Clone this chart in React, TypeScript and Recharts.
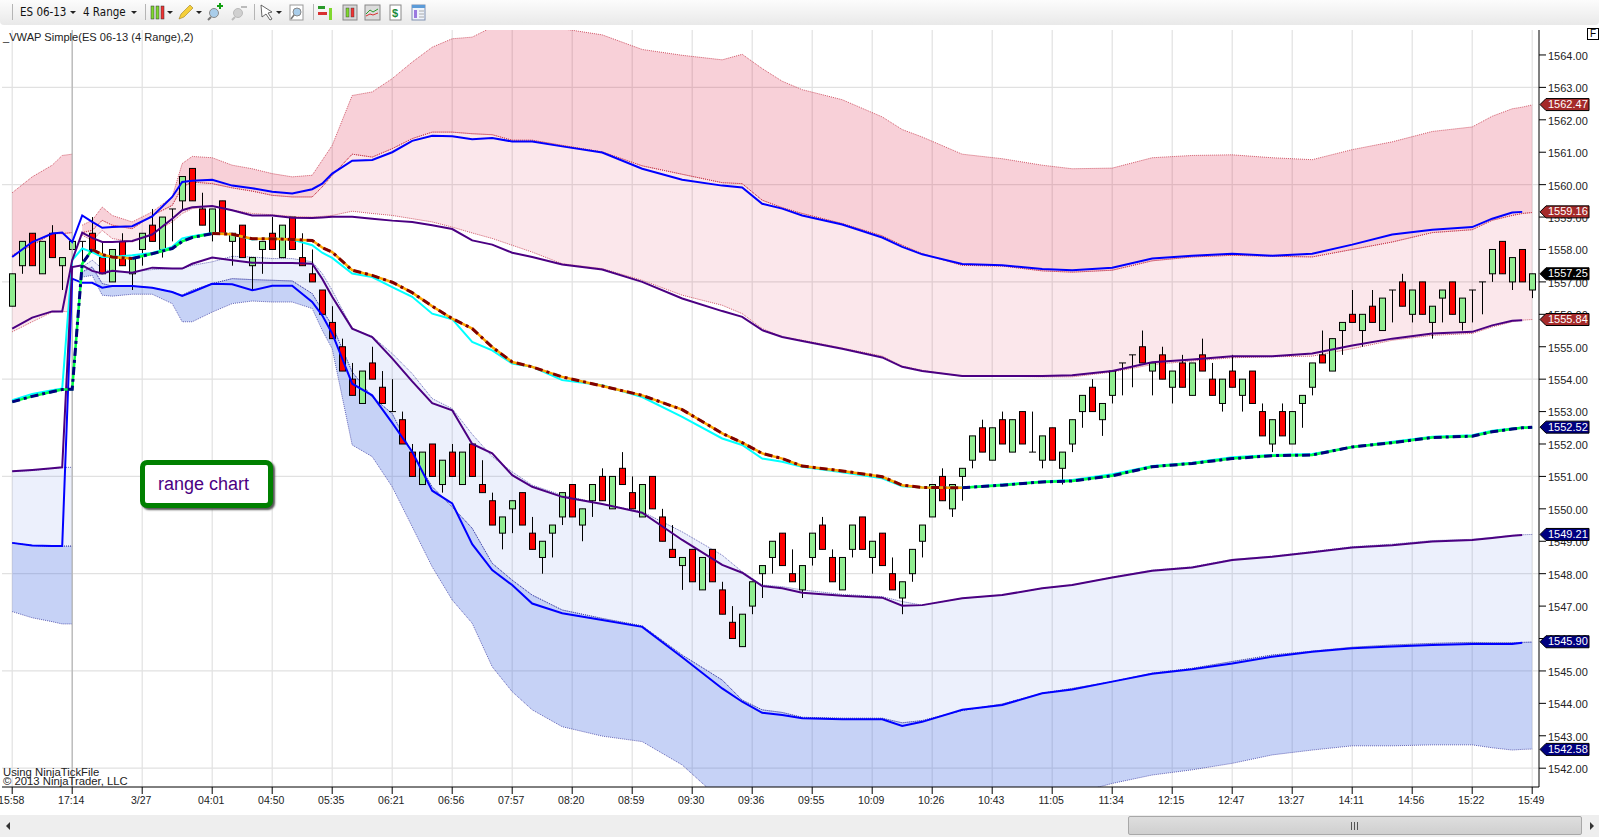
import React from 'react'
import {
  Area,
  Bar,
  CartesianGrid,
  ComposedChart,
  Line,
  ReferenceDot,
  ReferenceLine,
  XAxis,
  YAxis,
} from 'recharts'

const FONT = '"Liberation Sans", Arial, sans-serif'
const TOOLBAR_FONT = '"DejaVu Sans Condensed", "Liberation Sans", sans-serif'

const tickBars = [0, 6, 13, 20, 26, 32, 38, 44, 50, 56, 62, 68, 74, 80, 86, 92, 98, 104, 110, 116, 122, 128, 134, 140, 146, 152]
const tickLabels = ['15:58', '17:14', '3/27', '04:01', '04:50', '05:35', '06:21', '06:56', '07:57', '08:20', '08:59', '09:30', '09:36', '09:55', '10:09', '10:26', '10:43', '11:05', '11:34', '12:15', '12:47', '13:27', '14:11', '14:56', '15:22', '15:49']
const priceTicks = [1542, 1543, 1544, 1545, 1546, 1547, 1548, 1549, 1550, 1551, 1552, 1553, 1554, 1555, 1556, 1557, 1558, 1559, 1560, 1561, 1562, 1563, 1564]
const priceGrid = [1542, 1545, 1548, 1551, 1554, 1557, 1560, 1563]
const xDomain = [-1.02, 152.68]
const yDomain = [1541.42, 1564.77]

// range bars, one entry per bar
const opens = [
  1556.25, 1557.5, 1558.5, 1557.25, 1558.5, 1557.5, 1558, 1558.25, 1558.5, 1557.75,
  1557, 1558.25, 1557.25, 1558, 1558.75, 1558, 1559.25, 1559.5, 1560.5, 1559.25,
  1558.5, 1559.5, 1558.25, 1558.75, 1557.5, 1558, 1558.5, 1557.75, 1559, 1557.75,
  1557.25, 1556.75, 1555.75, 1555, 1554, 1553.25, 1554.5, 1553.75, 1553, 1552.75,
  1551.75, 1550.75, 1552, 1550.75, 1551.75, 1550.75, 1552, 1550.75, 1550.25, 1549.25,
  1550, 1550.5, 1549.25, 1548.5, 1549.25, 1549.75, 1550.75, 1549.5, 1550.25, 1551,
  1550, 1551.25, 1550.5, 1549.75, 1551, 1549.75, 1548.75, 1548.25, 1548.75, 1547.5,
  1548.75, 1547.5, 1546.5, 1545.75, 1547, 1548, 1548.5, 1549.25, 1548, 1547.5,
  1548.5, 1549.5, 1548.5, 1547.5, 1548.75, 1549.75, 1548.5, 1549.25, 1548, 1547.25,
  1548, 1549, 1549.75, 1551, 1550, 1551, 1551.5, 1552.5, 1551.5, 1552.75,
  1551.75, 1553, 1551.75, 1551.5, 1552.5, 1551.25, 1552, 1553, 1553.75, 1552.75,
  1553.5, 1554.5, 1554.75, 1555, 1554.25, 1554.75, 1553.75, 1554.5, 1553.5, 1554.75,
  1554, 1553.25, 1554.25, 1553.5, 1554.25, 1553, 1552, 1553, 1552, 1553.25,
  1553.75, 1554.75, 1554.25, 1555.5, 1556, 1555.5, 1556.25, 1555.5, 1556.75, 1557,
  1556, 1557, 1555.75, 1556.5, 1557, 1555.75, 1556.75, 1557, 1557.25, 1558.25,
  1557, 1558, 1556.75,
]
const closes = [
  1557.25, 1558.25, 1557.5, 1558.25, 1557.75, 1557.75, 1558.25, 1558.25, 1558, 1557.25,
  1558, 1557.5, 1557.75, 1558.5, 1558.25, 1559, 1559.25, 1560.25, 1559.5, 1558.75,
  1559.25, 1558.5, 1558.5, 1557.75, 1557.75, 1558.25, 1558, 1558.75, 1558, 1557.5,
  1557, 1556, 1555.25, 1554.25, 1553.5, 1554.25, 1554, 1553.25, 1553, 1552,
  1551, 1551.75, 1551, 1551.5, 1551, 1551.75, 1551, 1550.5, 1549.5, 1549.75,
  1550.25, 1549.5, 1548.75, 1549, 1549.5, 1550.5, 1549.75, 1550, 1550.75, 1550.25,
  1551, 1550.75, 1550, 1550.75, 1550, 1549, 1548.5, 1548.5, 1547.75, 1548.5,
  1547.75, 1546.75, 1546, 1546.75, 1547.75, 1548.25, 1549, 1548.25, 1547.75, 1548.25,
  1549.25, 1548.75, 1547.75, 1548.5, 1549.5, 1548.75, 1549, 1548.25, 1547.5, 1547.75,
  1548.75, 1549.5, 1550.75, 1550.25, 1550.75, 1551.25, 1552.25, 1551.75, 1552.5, 1552,
  1552.75, 1552, 1551.75, 1552.25, 1551.5, 1551.75, 1552.75, 1553.5, 1553, 1553.25,
  1554.25, 1554.5, 1554.75, 1554.5, 1554.5, 1554, 1554.25, 1553.75, 1554.5, 1554.25,
  1553.5, 1554, 1553.75, 1554, 1553.25, 1552.25, 1552.75, 1552.25, 1553, 1553.5,
  1554.5, 1554.5, 1555.25, 1555.75, 1555.75, 1556, 1555.75, 1556.5, 1556.75, 1556.25,
  1556.75, 1556, 1556.25, 1556.75, 1556, 1556.5, 1556.75, 1557, 1558, 1557.25,
  1557.75, 1557, 1557.25,
]
const highs = [
  1557.25, 1558.25, 1558.5, 1558.25, 1558.75, 1557.75, 1558.25, 1558.25, 1559, 1558.25,
  1558, 1558.5, 1557.75, 1558.5, 1559.25, 1559, 1559.25, 1560.25, 1560.5, 1559.75,
  1559.25, 1559.5, 1558.5, 1558.75, 1557.75, 1558.25, 1559, 1558.75, 1559, 1558.5,
  1558, 1556.75, 1556.25, 1555.25, 1554.5, 1554.25, 1555, 1554.25, 1554, 1553,
  1552, 1551.75, 1552, 1551.5, 1552, 1551.75, 1552, 1551.5, 1550.5, 1549.75,
  1550.25, 1550.5, 1549.75, 1549, 1549.5, 1550.5, 1550.75, 1550, 1550.75, 1551.25,
  1551, 1551.75, 1551, 1550.75, 1551, 1550, 1549.5, 1548.5, 1548.75, 1548.5,
  1548.75, 1547.75, 1547, 1546.75, 1547.75, 1548.25, 1549, 1549.25, 1548.75, 1548.25,
  1549.25, 1549.75, 1548.75, 1548.5, 1549.5, 1549.75, 1549, 1549.25, 1548.5, 1547.75,
  1548.75, 1549.5, 1550.75, 1551.25, 1550.75, 1551.25, 1552.25, 1552.75, 1552.5, 1553,
  1552.75, 1553, 1553, 1552.25, 1552.5, 1551.75, 1552.75, 1553.5, 1554, 1553.25,
  1554.25, 1554.5, 1554.75, 1555.5, 1554.5, 1555, 1554.25, 1554.75, 1554.5, 1555.25,
  1554.5, 1554, 1554.75, 1554, 1554.25, 1553.25, 1552.75, 1553.25, 1553, 1553.5,
  1554.5, 1555.5, 1555.25, 1555.75, 1556.75, 1556, 1556.75, 1556.5, 1556.75, 1557.25,
  1556.75, 1557, 1556.25, 1556.75, 1557, 1556.5, 1556.75, 1557, 1558, 1558.25,
  1557.75, 1558, 1557.25,
]
const lows = [
  1556.25, 1557.25, 1557.5, 1557.25, 1557.75, 1556.75, 1558, 1557.25, 1558, 1557.25,
  1557, 1557.5, 1556.75, 1557.5, 1558.25, 1557.75, 1558.25, 1559.25, 1559.5, 1558.75,
  1558.25, 1558.5, 1557.5, 1557.75, 1556.75, 1557.25, 1558, 1557.75, 1558, 1557.5,
  1557, 1556, 1555.25, 1554.25, 1553.5, 1553.25, 1554, 1553.25, 1553, 1552,
  1551, 1550.75, 1551, 1550.5, 1551, 1550.75, 1551, 1550.5, 1549.5, 1548.75,
  1549.25, 1549.5, 1548.75, 1548, 1548.5, 1549.5, 1549.75, 1549, 1549.75, 1550.25,
  1550, 1550.75, 1550, 1549.75, 1550, 1549, 1548.5, 1547.5, 1547.75, 1547.5,
  1547.75, 1546.75, 1546, 1545.75, 1546.75, 1547.25, 1548, 1548.25, 1547.75, 1547.25,
  1548.25, 1548.75, 1547.75, 1547.5, 1548.5, 1548.75, 1548, 1548.25, 1547.5, 1546.75,
  1547.75, 1548.5, 1549.75, 1550.25, 1549.75, 1550.25, 1551.25, 1551.75, 1551.5, 1552,
  1551.75, 1552, 1551.75, 1551.25, 1551.5, 1550.75, 1551.75, 1552.5, 1553, 1552.25,
  1553.25, 1553.5, 1553.75, 1554.5, 1553.5, 1554, 1553.25, 1553.75, 1553.5, 1554.25,
  1553.5, 1553, 1553.75, 1553, 1553.25, 1552.25, 1551.75, 1552.25, 1552, 1552.5,
  1553.5, 1554.5, 1554.25, 1554.75, 1555.75, 1555, 1555.75, 1555.5, 1555.75, 1556.25,
  1555.75, 1556, 1555.25, 1555.75, 1556, 1555.5, 1555.75, 1556, 1557, 1557.25,
  1556.75, 1557, 1556.5,
]

// the bars the indicator values below were read at
const sampleBars = [
  0, 2, 4, 5, 6,
  7, 8, 9, 10,
  12, 14, 16, 17, 18,
  20, 22, 24, 26, 28,
  30, 31, 32, 34, 36,
  38, 40, 42, 44, 46,
  48, 50, 52,
  55, 59, 63, 67, 71,
  73, 75, 77, 79, 83,
  87, 89, 91, 95, 99,
  103, 106, 110, 114, 118,
  122, 126, 130, 134, 138,
  142, 146, 148, 150, 151, 152,
]

const outerUpper = [
  1559.75, 1560.24, 1560.6, 1560.9, 1560.94,
  1558.75, 1558.9, 1559.31, 1559.05,
  1558.85, 1559.16, 1559.62, 1560.65, 1560.87,
  1560.83, 1560.6, 1560.49, 1560.34, 1560.24,
  1560.29, 1560.75, 1561.21, 1562.75, 1562.86,
  1563.27, 1563.78, 1564.24, 1564.5, 1564.55,
  1564.86, 1565.02, 1565.07,
  1564.81, 1564.62, 1564.17, 1563.99, 1563.85,
  1564.02, 1563.58, 1563.19, 1562.93, 1562.62,
  1562.09, 1561.7, 1561.47, 1560.94, 1560.8,
  1560.6, 1560.49, 1560.51, 1560.83, 1560.9,
  1560.92, 1560.83, 1560.77, 1561.08, 1561.32,
  1561.64, 1561.78, 1562.11, 1562.34, 1562.39, 1562.46,
]
const innerUpper = [
  1557.82, 1558.13, 1558.49, 1558.49, 1558.52,
  1558.52, 1558.59, 1558.9, 1558.75,
  1558.64, 1559.05, 1559.36, 1559.93, 1560.08,
  1560.03, 1559.9, 1559.8, 1559.67, 1559.62,
  1559.62, 1559.93, 1560.29, 1560.94, 1560.85,
  1561.11, 1561.42, 1561.62, 1561.62, 1561.57,
  1561.54, 1561.37, 1561.37,
  1561.21, 1561.01, 1560.58, 1560.32, 1560.06,
  1560.03, 1559.52, 1559.29, 1559.11, 1558.8,
  1558.42, 1558.13, 1557.87, 1557.51, 1557.49,
  1557.34, 1557.3, 1557.36, 1557.65, 1557.77,
  1557.82, 1557.79, 1557.77, 1558, 1558.23,
  1558.52, 1558.61, 1558.9, 1559.05, 1559.11, 1559.14,
]
const upperFloor = [
  1555.46, 1555.77, 1556.07, 1556.09, 1556.07,
  1558.44, 1558.28, 1558.59, 1558.34,
  1558.23, 1558.49, 1558.85, 1559.11, 1559.26,
  1559.33, 1559.21, 1559.11, 1559.07, 1559.02,
  1559, 1559.02, 1559.05, 1559.18, 1559.11,
  1559.05, 1558.95, 1558.85, 1558.69, 1558.51,
  1558.34, 1558.13, 1557.92,
  1557.56, 1557.41, 1557.05, 1556.59, 1556.28,
  1556.02, 1555.56, 1555.3, 1555.2, 1554.96,
  1554.71, 1554.4, 1554.27, 1554.09, 1554.09,
  1554.07, 1554.07, 1554.22, 1554.45, 1554.56,
  1554.66, 1554.69, 1554.71, 1554.94, 1555.2,
  1555.35, 1555.41, 1555.61, 1555.77, 1555.82, 1555.84,
]
const lowerCeiling = [
  1551.16, 1551.18, 1551.25, 1551.28, 1551.28,
  1557.46, 1557.67, 1557.41, 1557.31,
  1557.31, 1557.38, 1557.41, 1557.41, 1557.51,
  1557.62, 1557.79, 1557.77, 1557.72, 1557.72,
  1557.62, 1557.26, 1556.74, 1555.56, 1555.32,
  1554.79, 1554.17, 1553.4, 1553.09, 1552.3,
  1551.61, 1551.14, 1550.73,
  1550.42, 1550.15, 1549.91, 1549.29, 1548.57,
  1548.06, 1547.65, 1547.6, 1547.5, 1547.36,
  1547.29, 1547.14, 1547.03, 1547.24, 1547.34,
  1547.55, 1547.65, 1547.89, 1548.11, 1548.21,
  1548.44, 1548.54, 1548.68, 1548.83, 1548.91,
  1549.02, 1549.06, 1549.12, 1549.18, 1549.2, 1549.21,
]
const innerLower = [
  1548.95, 1548.87, 1548.85, 1548.85, 1548.85,
  1557.31, 1557.46, 1556.95, 1556.87,
  1556.87, 1556.82, 1556.69, 1556.59, 1556.74,
  1556.95, 1557.1, 1557.07, 1557.05, 1557.03,
  1556.64, 1556.13, 1555.66, 1554.22, 1553.45,
  1552.94, 1551.71, 1550.68, 1550.06, 1549.4,
  1548.32, 1547.8, 1547.34,
  1546.88, 1546.62, 1546.39, 1545.49, 1544.72,
  1544.1, 1543.8, 1543.72, 1543.57, 1543.54,
  1543.54, 1543.4, 1543.47, 1543.78, 1543.98,
  1544.31, 1544.46, 1544.67, 1544.93, 1545.08,
  1545.29, 1545.49, 1545.61, 1545.73, 1545.8,
  1545.85, 1545.88, 1545.87, 1545.87, 1545.88, 1545.89,
]
const outerLower = [
  1546.83, 1546.64, 1546.52, 1546.45, 1546.45,
  1557.15, 1557.2, 1556.59, 1556.56,
  1556.62, 1556.62, 1556.33, 1555.77, 1555.77,
  1556.07, 1556.33, 1556.41, 1556.38, 1556.38,
  1556.18, 1555.51, 1554.94, 1551.97, 1551.61,
  1550.68, 1549.45, 1548.21, 1547.19, 1546.47,
  1545.13, 1544.36, 1543.8,
  1543.28, 1542.99, 1542.82, 1542.1, 1540.98,
  1540.6, 1540.3, 1540.2, 1540.1, 1540,
  1540, 1540.1, 1540.2, 1540.4, 1540.6,
  1540.9, 1541.2, 1541.53, 1541.79, 1541.95,
  1542.15, 1542.41, 1542.56, 1542.69, 1542.69,
  1542.72, 1542.72, 1542.63, 1542.56, 1542.58, 1542.59,
]
const blueUpper = [
  1557.77, 1558.23, 1558.49, 1558.52, 1558.23,
  1559.05, 1558.85, 1558.67, 1558.69,
  1558.72, 1559.02, 1559.62, 1560.08, 1560.12,
  1560.15, 1559.97, 1559.89, 1559.78, 1559.73,
  1559.86, 1560.03, 1560.34, 1560.74, 1560.76,
  1561, 1561.35, 1561.51, 1561.49, 1561.4,
  1561.44, 1561.33, 1561.33,
  1561.18, 1560.99, 1560.49, 1560.15, 1559.97,
  1559.91, 1559.41, 1559.26, 1559.05, 1558.77,
  1558.37, 1558.08, 1557.85, 1557.55, 1557.51,
  1557.4, 1557.36, 1557.44, 1557.72, 1557.81,
  1557.87, 1557.81, 1557.87, 1558.15, 1558.46,
  1558.61, 1558.69, 1558.95, 1559.14, 1559.16, null,
]
const purpleUpper = [
  1555.56, 1555.9, 1556.09, 1556.09, 1557.67,
  1558.52, 1558.36, 1558.23, 1558.23,
  1558.26, 1558.46, 1558.95, 1559.21, 1559.3,
  1559.34, 1559.21, 1559.05, 1559.05, 1558.98,
  1558.97, 1558.99, 1559.01, 1559.01, 1558.95,
  1558.89, 1558.85, 1558.75, 1558.63, 1558.28,
  1558.15, 1557.9, 1557.77,
  1557.54, 1557.38, 1557, 1556.49, 1556.1,
  1555.92, 1555.51, 1555.3, 1555.18, 1554.94,
  1554.67, 1554.38, 1554.25, 1554.1, 1554.1,
  1554.1, 1554.12, 1554.25, 1554.52, 1554.61,
  1554.71, 1554.71, 1554.79, 1555.04, 1555.25,
  1555.41, 1555.46, 1555.66, 1555.8, 1555.82, null,
]
const cyanMid = [
  1553.35, 1553.54, 1553.66, 1553.71, 1557.67,
  1558.03, 1557.92, 1557.77, 1557.77,
  1557.82, 1557.89, 1558.08, 1558.34, 1558.41,
  1558.51, 1558.46, 1558.31, 1558.34, 1558.31,
  1558.13, 1557.9, 1557.74, 1557.26, 1557.15,
  1556.84, 1556.54, 1556.02, 1555.85, 1555.15,
  1554.89, 1554.48, 1554.38,
  1553.97, 1553.81, 1553.45, 1552.84, 1552.17,
  1551.97, 1551.55, 1551.45, 1551.3, 1551.13,
  1550.94, 1550.7, 1550.66, 1550.66, 1550.75,
  1550.84, 1550.89, 1551.07, 1551.32, 1551.42,
  1551.59, 1551.66, 1551.69, 1551.91, 1552.07,
  1552.22, 1552.27, 1552.41, 1552.48, 1552.51, 1552.52,
]
const vwapMid = [
  1553.3, 1553.47, 1553.61, 1553.68, 1553.69,
  1557.56, 1558, 1557.84, 1557.77,
  1557.72, 1557.87, 1558.03, 1558.25, 1558.37,
  1558.49, 1558.47, 1558.33, 1558.33, 1558.31,
  1558.28, 1558.06, 1557.92, 1557.36, 1557.2,
  1556.99, 1556.67, 1556.25, 1555.87, 1555.56,
  1554.99, 1554.53, 1554.38,
  1554.07, 1553.79, 1553.5, 1553.06, 1552.33,
  1552.04, 1551.71, 1551.55, 1551.32, 1551.17,
  1550.99, 1550.73, 1550.66, 1550.65, 1550.73,
  1550.83, 1550.86, 1551.02, 1551.3, 1551.4,
  1551.55, 1551.64, 1551.66, 1551.91, 1552.04,
  1552.2, 1552.24, 1552.38, 1552.46, 1552.5, 1552.52,
]
const blueLower = [
  1548.95, 1548.87, 1548.85, 1548.85, 1557.1,
  1556.97, 1556.97, 1556.82, 1556.87,
  1556.87, 1556.82, 1556.69, 1556.57, 1556.69,
  1556.94, 1556.93, 1556.74, 1556.88, 1556.88,
  1556.38, 1555.97, 1555.41, 1553.86, 1553.5,
  1552.65, 1551.76, 1550.56, 1550.17, 1548.91,
  1548.11, 1547.65, 1547.08,
  1546.78, 1546.57, 1546.36, 1545.42, 1544.46,
  1544.05, 1543.71, 1543.64, 1543.54, 1543.51,
  1543.51, 1543.3, 1543.43, 1543.8, 1543.95,
  1544.31, 1544.43, 1544.67, 1544.91, 1545.05,
  1545.23, 1545.44, 1545.59, 1545.7, 1545.75,
  1545.8, 1545.83, 1545.83, 1545.83, 1545.87, null,
]
const purpleLower = [
  1551.16, 1551.2, 1551.25, 1551.28, 1557.46,
  1557.51, 1557.34, 1557.26, 1557.34,
  1557.28, 1557.44, 1557.41, 1557.41, 1557.56,
  1557.75, 1557.67, 1557.59, 1557.58, 1557.58,
  1557.56, 1557.1, 1556.54, 1555.56, 1555.3,
  1554.64, 1553.93, 1553.26, 1553.04, 1552,
  1551.71, 1551.04, 1550.68,
  1550.37, 1550.15, 1549.88, 1549.04, 1548.27,
  1548.03, 1547.62, 1547.55, 1547.41, 1547.32,
  1547.26, 1547.01, 1547.03, 1547.24, 1547.34,
  1547.55, 1547.65, 1547.88, 1548.09, 1548.19,
  1548.42, 1548.52, 1548.66, 1548.81, 1548.88,
  1548.99, 1549.04, 1549.1, 1549.17, 1549.19, null,
]

// where the moving VWAP flips colour
const vwapRising = [[0, 8], [12, 20], [95, 152]]
const vwapFalling = [[8, 12], [20, 95]]

const markerPrices = [1562.47, 1559.16, 1557.25, 1555.84, 1552.52, 1549.21, 1545.9, 1542.58]
const markerFills = ['#a52a2a', '#a52a2a', '#000000', '#a52a2a', '#000080', '#000080', '#000080', '#000080']

const bands = [
  { top: outerUpper, bottom: innerUpper, fill: '#dc143c', opacity: 0.2, stroke: '#c0283c' },
  { top: innerUpper, bottom: upperFloor, fill: '#dc143c', opacity: 0.1, stroke: '#c0283c' },
  { top: lowerCeiling, bottom: innerLower, fill: '#4169e1', opacity: 0.1, stroke: '#3a3aa0' },
  { top: innerLower, bottom: outerLower, fill: '#4169e1', opacity: 0.3, stroke: '#3a3aa0' },
]

const solidLines = [
  { key: 'cyanMid', values: cyanMid, color: '#00ffff' },
  { key: 'blueUpper', values: blueUpper, color: '#0000ff' },
  { key: 'purpleUpper', values: purpleUpper, color: '#4b0082' },
  { key: 'blueLower', values: blueLower, color: '#0000ff' },
  { key: 'purpleLower', values: purpleLower, color: '#4b0082' },
]

const vwapRuns = [
  ...vwapRising.map((run) => ({ run, under: '#00ff40', over: '#000080' })),
  ...vwapFalling.map((run) => ({ run, under: '#ffa500', over: '#800000' })),
]

const rows = opens.map((open, bar) => {
  const row: Record<string, any> = {
    bar,
    open,
    close: closes[bar],
    high: highs[bar],
    low: lows[bar],
    range: [lows[bar], highs[bar]],
  }
  const at = sampleBars.indexOf(bar)
  if (at >= 0) {
    solidLines.forEach((l) => {
      row[l.key] = l.values[at]
    })
    vwapRuns.forEach(({ run }, k) => {
      if (bar >= run[0] && bar <= run[1]) row['vwap' + k] = vwapMid[at]
    })
    bands.forEach((b, k) => {
      // the bands break at the session change
      row['band' + k + (bar <= 6 ? 'a' : 'b')] = [b.bottom[at], b.top[at]]
    })
  }
  return row
})

function Candle(props: any) {
  const { x, y, width, height, payload } = props
  const { open, close, high, low } = payload
  const perPoint = height / (high - low)
  const cx = Math.round(x + width / 2) + 0.5
  const top = y + (high - Math.max(open, close)) * perPoint
  const bottom = y + (high - Math.min(open, close)) * perPoint
  const fill = close > open ? '#90ee90' : '#ff0000'
  return (
    <g>
      <line x1={cx} x2={cx} y1={y} y2={y + height} stroke="#000" />
      {open === close ? (
        <line x1={cx - 3.5} x2={cx + 3.5} y1={top} y2={top} stroke="#000" />
      ) : (
        <rect x={cx - 3} y={top} width={6} height={bottom - top} fill={fill} stroke="#000" />
      )}
    </g>
  )
}

function PriceMarker({ cy, price, fill }: any) {
  const left = 1540
  const right = 1589
  return (
    <g>
      <polygon
        points={`${left},${cy} ${left + 6},${cy - 6} ${right},${cy - 6} ${right},${cy + 6} ${left + 6},${cy + 6}`}
        fill={fill}
        stroke="#000"
      />
      <text x={1548} y={cy + 3.5} fill="#fff" fontSize={11} fontFamily={FONT}>
        {price.toFixed(2)}
      </text>
    </g>
  )
}

function Arrow({ x, y = 12 }: { x: number; y?: number }) {
  return <polygon points={`${x - 3},${y - 1} ${x + 3},${y - 1} ${x},${y + 2}`} fill="#222" />
}

function Toolbar() {
  return (
    <div
      style={{
        position: 'absolute',
        left: 0,
        top: 0,
        width: 1599,
        height: 25,
        background: 'linear-gradient(#fcfcfc, #e9e9e9)',
        borderBottomLeftRadius: 4,
        borderBottomRightRadius: 4,
      }}
    >
      <span style={{ position: 'absolute', left: 20, top: 5, font: `11.5px ${TOOLBAR_FONT}`, color: '#111' }}>ES 06-13</span>
      <span style={{ position: 'absolute', left: 83, top: 5, font: `11.5px ${TOOLBAR_FONT}`, color: '#111' }}>4 Range</span>
      <svg width={440} height={25} style={{ position: 'absolute', left: 0, top: 0 }}>
        {[12, 145, 254, 313].map((x) => (
          <line key={x} x1={x + 0.5} x2={x + 0.5} y1={4} y2={20} stroke="#b5b5b5" />
        ))}
        <Arrow x={73} />
        <Arrow x={134} />
        <Arrow x={170} />
        <Arrow x={199} />
        <Arrow x={279} />
        {/* bar type */}
        <rect x={151} y={6} width={3} height={13} fill="#7fd82e" stroke="#333" strokeWidth={0.5} />
        <rect x={156} y={6} width={3} height={13} fill="#7fd82e" stroke="#333" strokeWidth={0.5} />
        <rect x={161} y={6} width={3} height={13} fill="#e33" stroke="#333" strokeWidth={0.5} />
        {/* pencil */}
        <polygon points="179,19 181,14 190,5 193,8 184,17" fill="#f5cf3a" stroke="#a08020" strokeWidth={0.6} />
        {/* zoom in and out */}
        <circle cx={214} cy={13} r={4.5} fill="#a9cdea" stroke="#8a8a8a" />
        <line x1={211} y1={17} x2={208} y2={20} stroke="#777" strokeWidth={2} />
        <path d="M217 6h6M220 3v6" stroke="#12a012" strokeWidth={2} />
        <circle cx={238} cy={13} r={4.5} fill="#d0d0d0" stroke="#bbb" />
        <line x1={235} y1={17} x2={232} y2={20} stroke="#bbb" strokeWidth={2} />
        <path d="M241 7h6" stroke="#bbb" strokeWidth={2} />
        {/* cursor and search */}
        <polygon points="261,5 272,12 268,13 272,19 270,20 266,14 262,17" fill="#fff" stroke="#444" strokeWidth={0.8} />
        <rect x={290} y={5} width={13} height={15} fill="#fff" stroke="#999" />
        <circle cx={297} cy={12} r={4} fill="#a9cdea" stroke="#888" />
        <line x1={294} y1={15} x2={291} y2={19} stroke="#777" strokeWidth={1.5} />
        {/* chart icons */}
        <rect x={318} y={6} width={7} height={3} fill="#2a9a2a" />
        <rect x={318} y={12} width={9} height={3} fill="#d83030" />
        <rect x={329} y={8} width={3} height={12} fill="#7fd82e" />
        <rect x={343} y={5} width={14} height={15} fill="#d8d8d8" stroke="#888" />
        <rect x={346} y={8} width={3} height={9} fill="#7fd82e" stroke="#333" strokeWidth={0.4} />
        <rect x={351} y={8} width={3} height={9} fill="#e33" stroke="#333" strokeWidth={0.4} />
        <rect x={365} y={5} width={15} height={15} fill="#dcdcdc" stroke="#888" />
        <path d="M366 14l4-4 3 2 5-3" stroke="#2a9a2a" fill="none" />
        <path d="M366 16l4-2 3 1 5-2" stroke="#d83030" fill="none" />
        <rect x={390} y={5} width={11} height={15} fill="#fff" stroke="#888" />
        <text x={392} y={17} fontSize={11} fontWeight={700} fill="#1a8a3a" fontFamily={FONT}>$</text>
        <rect x={412} y={5} width={13} height={15} fill="#eef3fb" stroke="#7e8fb0" />
        <rect x={412} y={5} width={13} height={3} fill="#5b9bd8" />
        <rect x={414} y={10} width={3} height={8} fill="#9a7ae0" />
        <path d="M419 11h5M419 14h5M419 17h5" stroke="#aaa" />
      </svg>
    </div>
  )
}

function Scrollbar() {
  return (
    <div style={{ position: 'absolute', left: 0, top: 815, width: 1599, height: 22, background: '#eeeeee' }}>
      <div
        style={{
          position: 'absolute',
          left: 1128,
          top: 1,
          width: 454,
          height: 19,
          background: 'linear-gradient(#dedede, #cfcfcf)',
          border: '1px solid #a8a8a8',
          borderRadius: 2,
          boxSizing: 'border-box',
        }}
      />
      <svg width={1599} height={22} style={{ position: 'absolute', left: 0, top: 0 }}>
        <polygon points="10,7 10,15 6,11" fill="#333" />
        <polygon points="1590,7 1590,15 1594,11" fill="#333" />
        <path d="M1351.5 7v8M1354.5 7v8M1357.5 7v8" stroke="#555" />
      </svg>
    </div>
  )
}

export default function App() {
  return (
    <div style={{ position: 'absolute', left: 0, top: 0, width: 1599, height: 837, background: '#fff', overflow: 'hidden' }}>
      <ComposedChart
        width={1599}
        height={837}
        data={rows}
        margin={{ top: 30, right: 0, bottom: 0, left: 2 }}
        barSize={7}
      >
        <CartesianGrid stroke="#e1e1e1" strokeWidth={1.2} horizontalValues={priceGrid} verticalValues={tickBars} />
        <XAxis
          dataKey="bar"
          type="number"
          domain={xDomain}
          allowDataOverflow
          ticks={tickBars}
          interval={0}
          tickFormatter={(bar: number) => tickLabels[tickBars.indexOf(bar)]}
          height={50}
          tickSize={7}
          tickMargin={3}
          stroke="#000"
          tick={{ fill: '#222', fontSize: 10.5, fontFamily: FONT, dx: -1 }}
        />
        <YAxis
          orientation="right"
          width={60}
          domain={yDomain}
          allowDataOverflow
          ticks={priceTicks}
          interval={0}
          tickFormatter={(v: number) => v.toFixed(2)}
          tickSize={7}
          tickMargin={2}
          stroke="#000"
          tick={{ fill: '#222', fontSize: 11, fontFamily: FONT, dy: 1 }}
        />
        <ReferenceLine x={6} stroke="#b4b4b4" strokeWidth={1.2} />
        {bands.flatMap((b, k) =>
          ['a', 'b'].map((session) => (
            <Area
              key={k + session}
              dataKey={'band' + k + session}
              type="linear"
              connectNulls
              fill={b.fill}
              fillOpacity={b.opacity}
              stroke={b.stroke}
              strokeOpacity={0.75}
              strokeWidth={1}
              strokeDasharray="1 1"
              dot={false}
              activeDot={false}
              isAnimationActive={false}
            />
          )),
        )}
        <Bar dataKey="range" shape={<Candle />} isAnimationActive={false} />
        {solidLines.map((l) => (
          <Line
            key={l.key}
            dataKey={l.key}
            type="linear"
            connectNulls
            stroke={l.color}
            strokeWidth={2}
            dot={false}
            activeDot={false}
            isAnimationActive={false}
          />
        ))}
        {vwapRuns.map((r, k) => (
          <Line
            key={'under' + k}
            dataKey={'vwap' + k}
            type="linear"
            connectNulls
            stroke={r.under}
            strokeWidth={2.5}
            dot={false}
            activeDot={false}
            isAnimationActive={false}
          />
        ))}
        {vwapRuns.map((r, k) => (
          <Line
            key={'over' + k}
            dataKey={'vwap' + k}
            type="linear"
            connectNulls
            stroke={r.over}
            strokeWidth={3}
            strokeDasharray="8 4 3 4"
            dot={false}
            activeDot={false}
            isAnimationActive={false}
          />
        ))}
      </ComposedChart>

      {/* price flags go in a chart of their own so they sit over the axis labels */}
      <div style={{ position: 'absolute', left: 0, top: 0 }}>
        <ComposedChart
          width={1599}
          height={837}
          data={rows}
          margin={{ top: 30, right: 60, bottom: 50, left: 2 }}
        >
          <XAxis dataKey="bar" type="number" domain={xDomain} allowDataOverflow hide />
          <YAxis domain={yDomain} allowDataOverflow hide />
          {markerPrices.map((price, k) => (
            <ReferenceDot
              key={price}
              x={152}
              y={price}
              r={1}
              ifOverflow="visible"
              shape={(p: any) => <PriceMarker cy={p.cy} price={price} fill={markerFills[k]} />}
            />
          ))}
        </ComposedChart>
      </div>

      <Toolbar />
      <Scrollbar />

      <div style={{ position: 'absolute', left: 3, top: 31, font: `11.1px ${FONT}`, color: '#222', whiteSpace: 'nowrap' }}>
        _VWAP Simple(ES 06-13 (4 Range),2)
      </div>
      <div style={{ position: 'absolute', left: 3, top: 768, font: `11.3px/9px ${FONT}`, color: '#222', whiteSpace: 'nowrap' }}>
        Using NinjaTickFile
        <br />
        © 2013 NinjaTrader, LLC
      </div>
      <div
        style={{
          position: 'absolute',
          left: 1587,
          top: 28,
          width: 12,
          height: 12,
          boxSizing: 'border-box',
          border: '1px solid #000',
          background: '#fff',
          font: `10px/10px ${FONT}`,
          textAlign: 'center',
        }}
      >
        F
      </div>
      <div
        style={{
          position: 'absolute',
          left: 140,
          top: 460,
          width: 133,
          height: 48,
          boxSizing: 'border-box',
          border: '5px solid #008000',
          borderRadius: 7,
          background: '#fff',
          boxShadow: '2px 2px 2px #555',
          color: '#4b0082',
          font: `18px/38px ${FONT}`,
          paddingLeft: 13,
        }}
      >
        range chart
      </div>
    </div>
  )
}
